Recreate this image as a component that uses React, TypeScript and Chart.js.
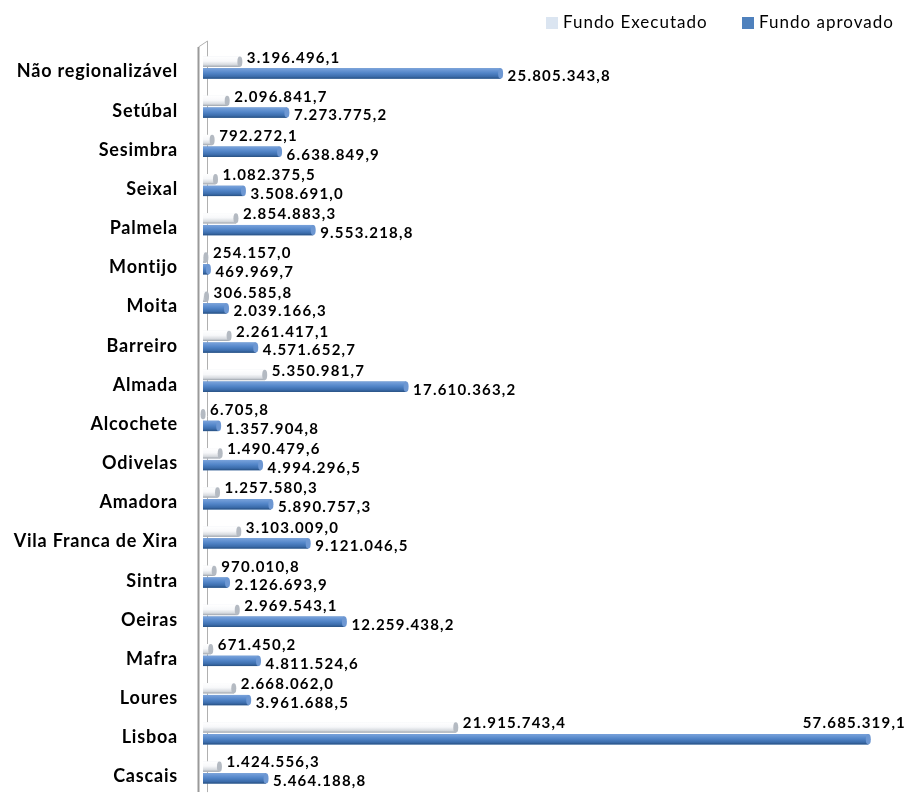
import React, { useEffect, useRef } from "react";
import { Chart, registerables } from "chart.js";

Chart.register(...registerables);

const categories = [
  "Não regionalizável",
  "Setúbal",
  "Sesimbra",
  "Seixal",
  "Palmela",
  "Montijo",
  "Moita",
  "Barreiro",
  "Almada",
  "Alcochete",
  "Odivelas",
  "Amadora",
  "Vila Franca de Xira",
  "Sintra",
  "Oeiras",
  "Mafra",
  "Loures",
  "Lisboa",
  "Cascais",
];

const fundoExecutado = [
  3196496.1, 2096841.7, 792272.1, 1082375.5, 2854883.3, 254157.0, 306585.8,
  2261417.1, 5350981.7, 6705.8, 1490479.6, 1257580.3, 3103009.0, 970010.8,
  2969543.1, 671450.2, 2668062.0, 21915743.4, 1424556.3,
];

const fundoAprovado = [
  25805343.8, 7273775.2, 6638849.9, 3508691.0, 9553218.8, 469969.7, 2039166.3,
  4571652.7, 17610363.2, 1357904.8, 4994296.5, 5890757.3, 9121046.5, 2126693.9,
  12259438.2, 4811524.6, 3961688.5, 57685319.1, 5464188.8,
];

const seriesLabels = ["Fundo Executado", "Fundo aprovado"];

function fmt(v: number): string {
  const [i, d] = v.toFixed(1).split(".");
  return i.replace(/\B(?=(\d{3})+(?!\d))/g, ".") + "," + d;
}

const FONT = "Lato, 'DejaVu Sans', sans-serif";
const W = 909;
const H = 793;

const styles = [
  {
    flat: "#e8ecf1",
    stops: ["#ffffff", "#f7f8fa", "#d5d9de", "#9aa1aa"],
    cap: "#b4bac2",
    legend: "#dbe5f1",
  },
  {
    flat: "#4f81bd",
    stops: ["#7aa3dc", "#5285c8", "#3b6cab", "#274f80"],
    cap: "#6d97d2",
    legend: "#4f81bd",
  },
];

const barPlugin = {
  id: "barDeco",
  beforeDraw(chart: any) {
    (chart.ctx as any).letterSpacing = "0.8px";
  },
  beforeDatasetsDraw(chart: any) {
    const ctx = chart.ctx as CanvasRenderingContext2D;
    const a = chart.chartArea;
    ctx.save();
    ctx.strokeStyle = "#b0b0b0";
    ctx.lineWidth = 1;
    ctx.beginPath();
    ctx.moveTo(a.left + 4.5, a.bottom);
    ctx.lineTo(a.left + 4.5, a.top - 7);
    ctx.lineTo(a.left - 4.5, a.top - 1);
    ctx.stroke();
    ctx.strokeStyle = "#9a9a9a";
    ctx.lineWidth = 2;
    ctx.beginPath();
    ctx.moveTo(a.left - 4.5, a.top - 1);
    ctx.lineTo(a.left - 4.5, a.bottom);
    ctx.stroke();
    ctx.restore();
  },
  afterDatasetsDraw(chart: any) {
    const ctx = chart.ctx as CanvasRenderingContext2D;
    ctx.save();
    (ctx as any).letterSpacing = "1.2px";
    ctx.font = `bold 15px ${FONT}`;
    const execY: number[] = [];
    chart.data.datasets.forEach((ds: any, di: number) => {
      const meta = chart.getDatasetMeta(di);
      const st = styles[di];
      meta.data.forEach((bar: any, i: number) => {
        const { x, y, base, height } = bar.getProps(["x", "y", "base", "height"], true);
        const top = y - height / 2;
        const g = ctx.createLinearGradient(0, top, 0, top + height);
        g.addColorStop(0, st.stops[0]);
        g.addColorStop(0.45, st.stops[1]);
        g.addColorStop(0.8, st.stops[2]);
        g.addColorStop(1, st.stops[3]);
        ctx.fillStyle = g;
        ctx.fillRect(base, top, Math.max(0, x - base), height);
        ctx.beginPath();
        ctx.ellipse(x, y, 2.5, height / 2, 0, 0, Math.PI * 2);
        ctx.fillStyle = st.cap;
        ctx.fill();
        const text = fmt(ds.data[i]);
        ctx.fillStyle = "#000";
        ctx.textBaseline = "middle";
        const ly = di === 0 ? y - 4 : y + 3;
        if (di === 0) execY[i] = ly;
        const tw = ctx.measureText(text).width;
        if (x + 8 + tw > W - 2) {
          ctx.textAlign = "right";
          ctx.fillText(text, W - 3, execY[i] ?? y - 12);
        } else {
          ctx.textAlign = "left";
          ctx.fillText(text, x + 7, ly);
        }
      });
    });
    ctx.restore();
  },
  afterDraw(chart: any) {
    const ctx = chart.ctx as CanvasRenderingContext2D;
    ctx.save();
    (ctx as any).letterSpacing = "1px";
    ctx.font = `17px ${FONT}`;
    ctx.textBaseline = "middle";
    ctx.textAlign = "left";
    const y = 23;
    const xs = [546, 742];
    seriesLabels.forEach((t, i) => {
      ctx.fillStyle = styles[i].legend;
      ctx.fillRect(xs[i], y - 6, 12, 12);
      ctx.fillStyle = "#000";
      ctx.fillText(t, xs[i] + 17, y);
    });
    ctx.restore();
  },
};

export default function App() {
  const ref = useRef<HTMLCanvasElement | null>(null);
  useEffect(() => {
    if (!ref.current) return;
    const chart = new Chart(ref.current, {
      type: "bar",
      data: {
        labels: categories,
        datasets: [
          {
            label: seriesLabels[0],
            data: fundoExecutado,
            backgroundColor: styles[0].flat,
            categoryPercentage: 0.6,
            barPercentage: 0.88,
          },
          {
            label: seriesLabels[1],
            data: fundoAprovado,
            backgroundColor: styles[1].flat,
            categoryPercentage: 0.6,
            barPercentage: 0.88,
          },
        ],
      },
      options: {
        indexAxis: "y",
        responsive: false,
        maintainAspectRatio: false,
        animation: false,
        layout: { padding: { top: 48, right: 14, bottom: 0, left: 0 } },
        plugins: {
          legend: { display: false },
          tooltip: { enabled: false },
        },
        scales: {
          x: {
            display: false,
            min: 0,
            max: 60000000,
          },
          y: {
            afterFit: (s: any) => {
              s.width = 203;
            },
            grid: { display: false, drawTicks: true, tickLength: 25 },
            border: { display: false },
            ticks: {
              color: "#000",
              padding: 0,
              labelOffset: 4,
              font: { family: FONT, size: 18, weight: "bold", lineHeight: 0.1 },
            },
          },
        },
      },
      plugins: [barPlugin],
    });
    return () => chart.destroy();
  }, []);
  return (
    <div style={{ position: "fixed", left: 0, top: 0, width: W, height: H, background: "#fff" }}>
      <canvas ref={ref} width={W} height={H} style={{ display: "block" }} />
    </div>
  );
}
